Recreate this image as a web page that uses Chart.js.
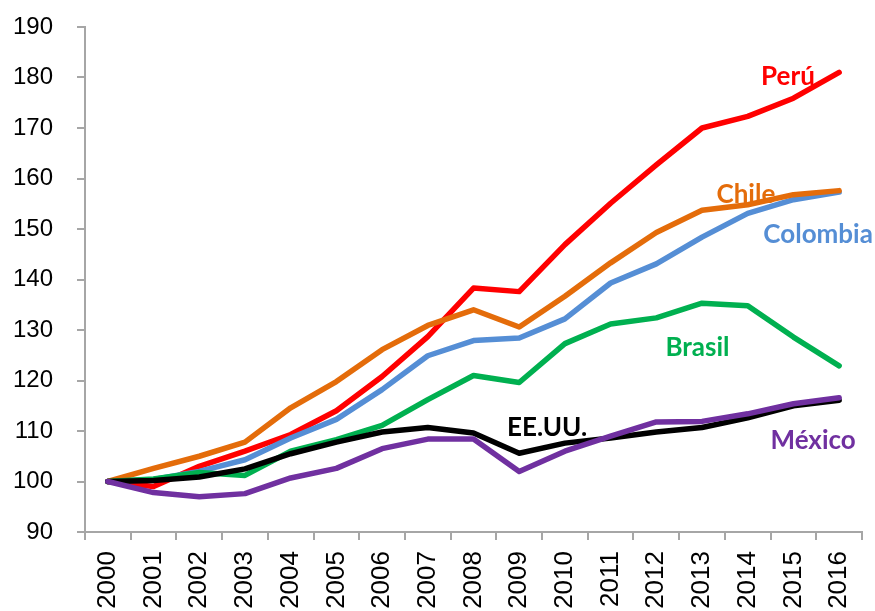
<!DOCTYPE html>
<html lang="es">
<head>
<meta charset="UTF-8">
<title>Índices 2000 = 100</title>
<script src="https://cdn.jsdelivr.net/npm/chart.js"></script>
<style>
    body { margin: 0; background: #fff; }
    #wrap { width: 875px; height: 611px; }
</style>
</head>
<body>
<div id="wrap"><canvas id="grafico"></canvas></div>
<script>
    // años y series (índice 2000 = 100)
    const years = ["2000","2001","2002","2003","2004","2005","2006","2007","2008","2009","2010","2011","2012","2013","2014","2015","2016"];
    const peru     = [100, 99.0, 103.0, 106.0, 109.3, 114.0, 120.8, 128.7, 138.3, 137.6, 146.9, 155.1, 162.7, 170.0, 172.3, 175.9, 181.0];
    const chile    = [100, 102.6, 105.0, 107.8, 114.6, 119.8, 126.1, 130.9, 134.0, 130.6, 136.7, 143.3, 149.3, 153.7, 154.8, 156.8, 157.6];
    const colombia = [100, 100.4, 102.0, 104.3, 108.6, 112.3, 118.2, 124.9, 127.9, 128.4, 132.2, 139.3, 143.1, 148.4, 153.1, 155.8, 157.3];
    const brasil   = [100, 100.5, 101.8, 101.2, 106.0, 108.3, 111.1, 116.2, 121.0, 119.6, 127.3, 131.2, 132.4, 135.3, 134.8, 128.6, 122.9];
    const eeuu     = [100, 100.2, 100.9, 102.5, 105.5, 107.8, 109.8, 110.7, 109.6, 105.6, 107.6, 108.6, 109.8, 110.7, 112.6, 115.0, 116.1];
    const mexico   = [100, 97.8, 97.0, 97.6, 100.7, 102.6, 106.5, 108.4, 108.4, 102.0, 106.0, 109.0, 111.8, 111.9, 113.4, 115.4, 116.6];
    const yTicks = [90, 100, 110, 120, 130, 140, 150, 160, 170, 180, 190];

    // etiquetas dentro del gráfico: texto, posición x (índice de año), valor y de la línea base
    const labelText = ["Perú", "Chile", "Colombia", "Brasil", "EE.UU.", "México"];
    const labelX = [14.88, 13.96, 15.54, 12.9, 9.61, 15.43];
    const labelY = [178.5, 155.2, 147.3, 124.9, 109.1, 106.5];
    const colores = ["#FF0000", "#E46C0A", "#558ED5", "#00B050", "#000000", "#7030A0"];

    const series = [peru, chile, colombia, brasil, eeuu, mexico];
    const orden = [5, 3, 4, 2, 1, 0]; // México arriba

    const etiquetas = {
        id: "etiquetas",
        afterDatasetsDraw(chart) {
            const ctx = chart.ctx;
            const x = chart.scales.x, y = chart.scales.y;
            ctx.save();
            ctx.font = "bold 26px Lato, 'Open Sans', sans-serif";
            ctx.textAlign = "center";
            ctx.textBaseline = "alphabetic";
            labelText.forEach(function (t, i) {
                ctx.fillStyle = colores[i];
                ctx.fillText(t, x.getPixelForValue(labelX[i]), y.getPixelForValue(labelY[i]));
            });
            ctx.restore();
        }
    };

    new Chart(document.getElementById("grafico"), {
        type: "line",
        data: {
            labels: years,
            datasets: series.map(function (d, i) {
                return {
                    label: labelText[i],
                    data: d,
                    borderColor: colores[i],
                    borderWidth: 5.5,
                    pointRadius: 0,
                    tension: 0,
                    borderCapStyle: "round",
                    borderJoinStyle: "round",
                    order: orden[i]
                };
            })
        },
        options: {
            responsive: true,
            maintainAspectRatio: false,
            animation: false,
            layout: { padding: { top: 27, right: 13, left: 0, bottom: 0 } },
            plugins: {
                legend: { display: false },
                tooltip: { enabled: false }
            },
            scales: {
                x: {
                    offset: true,
                    grid: { offset: true, drawOnChartArea: false, tickLength: 8, color: "#A6A6A6", lineWidth: 2 },
                    border: { color: "#A6A6A6", width: 2 },
                    ticks: {
                        color: "#000",
                        font: { family: "Liberation Sans", size: 26 },
                        minRotation: 90, maxRotation: 90,
                        autoSkip: false,
                        padding: 11
                    },
                    afterFit(s) { s.height = 79; s.paddingLeft = 0; s.paddingRight = 0; }
                },
                y: {
                    min: 90, max: 190,
                    afterBuildTicks(s) { s.ticks = yTicks.map(function (v) { return { value: v }; }); },
                    grid: { drawOnChartArea: false, tickLength: 8, color: "#A6A6A6", lineWidth: 2 },
                    border: { color: "#A6A6A6", width: 2 },
                    ticks: {
                        color: "#000",
                        font: { family: "Liberation Sans", size: 24 },
                        padding: 24
                    },
                    afterFit(s) { s.width = 85; s.paddingTop = 0; s.paddingBottom = 0; }
                }
            }
        },
        plugins: [etiquetas]
    });
</script>
</body>
</html>
